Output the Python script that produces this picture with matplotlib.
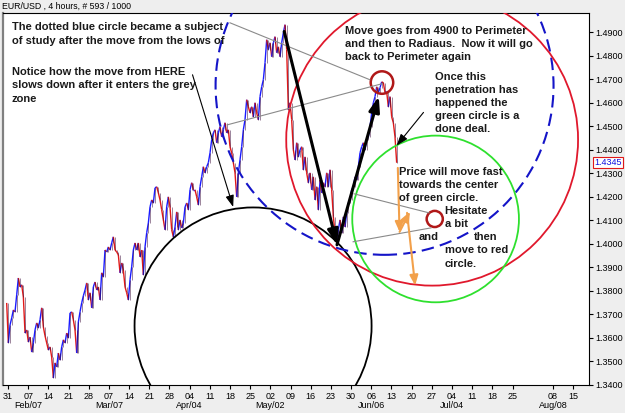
import numpy as np
import matplotlib
matplotlib.use("Agg")
import matplotlib.pyplot as plt
from matplotlib.patches import Ellipse
from matplotlib.collections import LineCollection

# closing prices, roughly one every 14 hours
close = [
    1.3749, 1.3579, 1.3655, 1.3685, 1.3719, 1.3711, 1.3783, 1.3855, 1.3817, 1.3826,
    1.3774, 1.3621, 1.3634, 1.3583, 1.3604, 1.3540, 1.3579, 1.3634, 1.3664, 1.3643,
    1.3677, 1.3728, 1.3647, 1.3609, 1.3579, 1.3549, 1.3562, 1.3519, 1.3430, 1.3494,
    1.3477, 1.3536, 1.3506, 1.3562, 1.3592, 1.3579, 1.3621, 1.3600, 1.3706, 1.3711,
    1.3677, 1.3634, 1.3536, 1.3668, 1.3711, 1.3749, 1.3779, 1.3804, 1.3834, 1.3762,
    1.3792, 1.3728, 1.3817, 1.3838, 1.3804, 1.3817, 1.3762, 1.3877, 1.3860, 1.3974,
    1.3966, 1.3987, 1.3974, 1.4004, 1.4030, 1.3974, 1.3966, 1.3953, 1.3877, 1.3919,
    1.3889, 1.3817, 1.3792, 1.3762, 1.3847, 1.3902, 1.3974, 1.4004, 1.3974, 1.4004,
    1.3945, 1.3974, 1.3868, 1.3987, 1.4047, 1.4089, 1.4157, 1.4187, 1.4174, 1.4238,
    1.4243, 1.4217, 1.4187, 1.4145, 1.4102, 1.4060, 1.4157, 1.4200, 1.4157, 1.4060,
    1.4030, 1.4072, 1.4136, 1.4060, 1.4102, 1.4068, 1.4089, 1.4157, 1.4174, 1.4145,
    1.4230, 1.4260, 1.4230, 1.4230, 1.4200, 1.4166, 1.4243, 1.4285, 1.4328, 1.4302,
    1.4328, 1.4345, 1.4387, 1.4443, 1.4472, 1.4485, 1.4430, 1.4472, 1.4498, 1.4455,
    1.4485, 1.4515, 1.4472, 1.4485, 1.4413, 1.4387, 1.4345, 1.4302, 1.4200, 1.4302,
    1.4357, 1.4413, 1.4485, 1.4528, 1.4613, 1.4583, 1.4557, 1.4583, 1.4540, 1.4600,
    1.4557, 1.4528, 1.4626, 1.4668, 1.4698, 1.4770, 1.4868, 1.4826, 1.4855, 1.4796,
    1.4855, 1.4881, 1.4813, 1.4838, 1.4796, 1.4855, 1.4898, 1.4932, 1.4826, 1.4570,
    1.4600, 1.4528, 1.4400, 1.4357, 1.4430, 1.4370, 1.4400, 1.4413, 1.4315, 1.4370,
    1.4302, 1.4260, 1.4302, 1.4230, 1.4285, 1.4187, 1.4243, 1.4145, 1.4272, 1.4217,
    1.4260, 1.4243, 1.4302, 1.4243, 1.4315, 1.4230, 1.4115, 1.4047, 1.4004, 1.4060,
    1.4102, 1.4047, 1.4115, 1.4072, 1.4132, 1.4174, 1.4187, 1.4230, 1.4243, 1.4285,
    1.4272, 1.4328, 1.4387, 1.4413, 1.4430, 1.4400, 1.4443, 1.4455, 1.4498, 1.4557,
    1.4600, 1.4626, 1.4668, 1.4643, 1.4664, 1.4689, 1.4685, 1.4643, 1.4647, 1.4583,
    1.4626, 1.4540, 1.4515, 1.4455, 1.4345,
]
# days counted from 31 Jan, first and last bar
first_day, last_day = -0.44, 134.8

tick_days = [0, 7, 14, 21, 28, 35, 42, 49, 56, 63, 70, 77, 84, 91, 98, 105, 112,
             119, 126, 133, 140, 147, 154, 161, 168, 175, 189, 196]
tick_labels = ["31", "07", "14", "21", "28", "07", "14", "21", "28", "04", "11",
               "18", "25", "02", "09", "16", "23", "30", "06", "13", "20", "27",
               "04", "11", "18", "25", "08", "15"]
month_days = [7, 35, 63, 91, 126, 154, 189]
month_labels = ["Feb/07", "Mar/07", "Apr/04", "May/02", "Jun/06", "Jul/04", "Aug/08"]
price_ticks = [1.34, 1.35, 1.36, 1.37, 1.38, 1.39, 1.40, 1.41, 1.42, 1.43,
               1.44, 1.45, 1.46, 1.47, 1.48, 1.49]

# circles: (center day, center price, radius in days)
black_circle = (85.0, 1.3651, 41.1)
blue_circle = (130.6, 1.4672, 58.6)
red_circle = (147.1, 1.4443, 50.6)
green_circle = (148.3, 1.4106, 28.9)
small_top = (129.7, 1.4686, 3.9)
small_mid = (148.0, 1.4106, 2.8)

grey_lines = [((77.0, 1.4940), (125.5, 1.4698)),
              ((76.0, 1.4506), (129.7, 1.4681)),
              ((120.0, 1.4213), (146.0, 1.4132)),
              ((119.7, 1.4009), (146.7, 1.4068))]
thin_arrows = [((64.0, 1.4719), (78.1, 1.4157)),
               ((144.1, 1.4559), (134.8, 1.4418))]
thick_arrows = [((95.8, 1.4903), (114.1, 1.3996)),
                ((114.1, 1.3996), (128.6, 1.4627))]
orange_arrows = [((135.2, 1.4323), (135.8, 1.4051)),
                 ((135.8, 1.4051), (139.4, 1.4137)),
                 ((138.4, 1.4132), (141.2, 1.3823))]

W, H = 625, 413
fig = plt.figure(figsize=(W / 100, H / 100), dpi=100, facecolor="#eeeeee")
ax = fig.add_axes([3 / W, 1 - 385 / H, 586.3 / W, 372.3 / H])
ax.set_facecolor("white")
ax.set_xlim(-1.72, 201.6)
ax.set_ylim(1.34, 1.4983)

# one day in price units so that circles stay round on screen
k = (586.3 / 203.32) / (372.3 / 0.1583)

days = np.linspace(first_day, last_day, len(close))
pts = np.column_stack([days, close])
segs = np.stack([pts[:-1], pts[1:]], axis=1)
cols = ["#1a1aff" if b >= a else "#e01818" for a, b in zip(close[:-1], close[1:])]
ax.add_collection(LineCollection(segs, colors=cols, linewidths=1.0, zorder=3))
ax.vlines(days[1:], np.minimum(close[:-1], close[1:]), np.maximum(close[:-1], close[1:]),
          colors="#3a0a3a", linewidths=0.5, alpha=0.7, zorder=3)


def circle(c, color, lw, ls="-"):
    cx, cy, r = c
    ax.add_patch(Ellipse((cx, cy), 2 * r, 2 * r * k, fill=False, ec=color, lw=lw, ls=ls, zorder=4))


circle(black_circle, "black", 1.3)
circle(blue_circle, "#1414c8", 1.5, (0, (6, 3)))
circle(red_circle, "#e0182c", 1.3)
circle(green_circle, "#2ee02e", 1.3)
circle(small_top, "#b01818", 1.8)
circle(small_mid, "#b01818", 1.8)

for a, b in grey_lines:
    ax.plot([a[0], b[0]], [a[1], b[1]], color="#8a8a8a", lw=0.8, zorder=5)
for a, b in thin_arrows:
    ax.annotate("", xy=b, xytext=a, zorder=6,
                arrowprops=dict(arrowstyle="-|>,head_length=0.7,head_width=0.25",
                                color="black", lw=0.8, shrinkA=0, shrinkB=0))
for a, b in thick_arrows:
    ax.annotate("", xy=b, xytext=a, zorder=6,
                arrowprops=dict(arrowstyle="-|>,head_length=0.9,head_width=0.32",
                                color="black", lw=2.2, shrinkA=0, shrinkB=0))
for a, b in orange_arrows:
    ax.annotate("", xy=b, xytext=a, zorder=6,
                arrowprops=dict(arrowstyle="-|>,head_length=0.6,head_width=0.25",
                                color="#f2a04a", lw=1.5, shrinkA=0, shrinkB=0))

# axes look
ax.yaxis.tick_right()
ax.set_yticks(price_ticks)
ax.set_yticklabels(["%.4f" % p for p in price_ticks])
ax.set_xticks(tick_days)
ax.set_xticklabels(tick_labels)
ax.tick_params(axis="y", length=3, width=0.8, pad=1, labelsize=6.5)
ax.tick_params(axis="x", length=3, width=0.8, pad=2, labelsize=6.5)
for lab in ax.get_xticklabels() + ax.get_yticklabels():
    lab.set_family("Liberation Sans")
for d, m in zip(month_days, month_labels):
    ax.text(d, -0.056, m, transform=ax.get_xaxis_transform(), ha="center", va="center",
            fontsize=6.5, family="Liberation Sans")
for s in ["top", "right", "bottom"]:
    ax.spines[s].set_linewidth(0.8)
ax.spines["left"].set_color("#808080")
ax.spines["left"].set_linewidth(1.6)

# last price box
ax.annotate("%.4f" % close[-1], xy=(1, close[-1]), xycoords=("axes fraction", "data"),
            xytext=(3.5, 0), textcoords="offset points", ha="left", va="center",
            fontsize=6.5, color="#1010e0", family="Liberation Sans",
            bbox=dict(boxstyle="square,pad=0.12", fc="white", ec="#e01818", lw=0.8),
            annotation_clip=False)

fig.text(2 / W, 1 - 6.7 / H, "EUR/USD , 4 hours, # 593 / 1000", fontsize=6.3,
         family="Liberation Sans", ha="left", va="center")

notes = [
    (12, 34.0, "The dotted blue circle became a subject\nof study after the move from the lows of"),
    (12, 85.5, "Notice how the move from HERE\nslows down after it enters the grey\nzone"),
    (345, 43.8, "Move goes from 4900 to Perimeter\nand then to Radiaus.  Now it will go\nback to Perimeter again"),
    (434.6, 102.7, "Once this\npenetration has\nhappened the\ngreen circle is a\ndone deal."),
    (398.7, 185.0, "Price will move fast\ntowards the center\nof green circle."),
    (444.6, 217.5, "Hesitate\na bit"),
    (418.7, 237.3, "and"),
    (473.7, 237.3, "then"),
    (444.6, 257.0, "move to red\ncircle."),
]
for x, y, t in notes:
    fig.text(x / W, 1 - y / H, t, fontsize=8, fontweight="bold", family="Liberation Sans",
             color="#1a1a1a", ha="left", va="center", linespacing=1.38, zorder=10)

fig.savefig("out.png", dpi=100, facecolor=fig.get_facecolor())
